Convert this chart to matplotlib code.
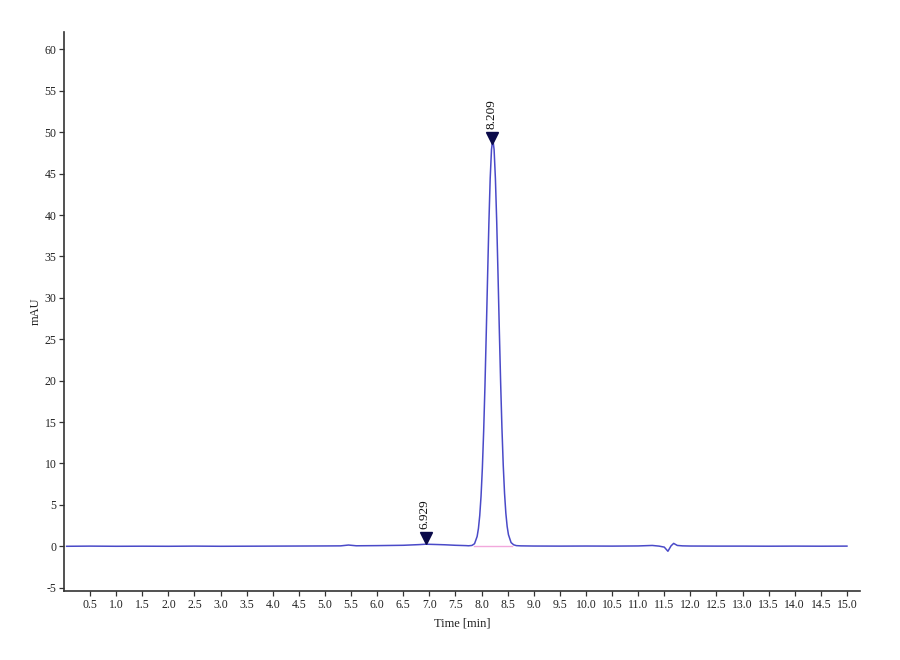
import matplotlib
matplotlib.use("Agg")
import matplotlib.pyplot as plt
from matplotlib.transforms import offset_copy

# ---- data ----
time_min = [0.05, 0.5, 1.0, 1.5, 2.0, 2.5, 3.0, 3.5, 4.0, 4.5, 5.0, 5.3, 5.45, 5.6, 6.0,
            6.5, 6.8, 6.929, 7.1, 7.3, 7.5, 7.7, 7.75, 7.815, 7.865, 7.915, 7.94, 7.965,
            7.99, 8.015, 8.04, 8.065, 8.09, 8.115, 8.14, 8.165, 8.19, 8.215, 8.24, 8.265,
            8.29, 8.315, 8.34, 8.365, 8.39, 8.415, 8.44, 8.465, 8.49, 8.515, 8.565,
            8.615, 8.665, 8.75, 9.0, 9.5, 10.0, 10.5, 11.0, 11.27, 11.4, 11.5, 11.57,
            11.63, 11.68, 11.75, 11.85, 12.0, 12.5, 13.0, 13.5, 14.0, 14.5, 15.0]
absorbance = [0.0, 0.02, 0.0, 0.01, 0.0, 0.02, 0.0, 0.01, 0.02, 0.03, 0.04, 0.05, 0.15, 0.06, 0.08,
              0.12, 0.2, 0.25, 0.22, 0.18, 0.12, 0.08, 0.06, 0.1, 0.31, 1.19, 2.16, 3.72,
              6.07, 9.42, 13.9, 19.4, 25.8, 32.5, 39.0, 44.4, 47.9, 49.2, 47.9, 44.4,
              39.2, 32.8, 26.1, 19.8, 14.3, 9.8, 6.4, 4.0, 2.4, 1.4, 0.45,
              0.18, 0.08, 0.05, 0.03, 0.02, 0.03, 0.02, 0.04, 0.1, 0.02, -0.1, -0.6,
              0.05, 0.35, 0.1, 0.05, 0.03, 0.02, 0.02, 0.01, 0.02, 0.01, 0.02]
peak_times = [6.929, 8.209]
peak_heights = [0.3, 48.6]
peak_labels = ["6.929", "8.209"]
baseline_start = [7.85]
baseline_end = [8.59]
x_ticks = [0.5, 1.0, 1.5, 2.0, 2.5, 3.0, 3.5, 4.0, 4.5, 5.0, 5.5, 6.0, 6.5, 7.0, 7.5,
           8.0, 8.5, 9.0, 9.5, 10.0, 10.5, 11.0, 11.5, 12.0, 12.5, 13.0, 13.5, 14.0, 14.5, 15.0]
y_ticks = [-5, 0, 5, 10, 15, 20, 25, 30, 35, 40, 45, 50, 55, 60]

plt.rcParams['font.family'] = ['Liberation Serif', 'DejaVu Serif']

fig = plt.figure(figsize=(9, 6.6), dpi=100)
ax = fig.add_axes([64/900, 1 - 591/660, (860 - 64)/900, (591 - 32)/660])

# integration baseline
for s, e in zip(baseline_start, baseline_end):
    ax.plot([s, e], [0, 0], color='#f2a8dc', lw=1.0, zorder=2)

ax.plot(time_min, absorbance, color='#4a4ac8', lw=1.1, zorder=3)

# peak markers and labels
for t, h, lab in zip(peak_times, peak_heights, peak_labels):
    tr = offset_copy(ax.transData, fig=fig, x=0, y=4.5, units='points')
    ax.plot([t], [h], marker='v', color='#0a0a4a', markersize=8, transform=tr,
            zorder=5, clip_on=False)
    ax.text(t, h, lab, rotation=90, ha='center', va='bottom', fontsize=9.5,
            transform=offset_copy(ax.transData, fig=fig, x=-1, y=10.5, units='points'),
            color='#111111')

ax.set_xlim(0.0, 15.25)
ax.set_ylim(-5.4, 62.1)
ax.set_xticks(x_ticks)
ax.set_xticklabels([f"{v:.1f}" for v in x_ticks])
ax.set_yticks(y_ticks)
ax.set_yticklabels([str(v) for v in y_ticks])

for side in ['top', 'right']:
    ax.spines[side].set_visible(False)
for side in ['left', 'bottom']:
    ax.spines[side].set_color('#333333')
    ax.spines[side].set_linewidth(1.2)

ax.tick_params(axis='both', direction='out', length=3.5, width=0.9, color='#333333',
               labelcolor='#222222', pad=2)
ax.tick_params(axis='x', labelsize=8.5)
ax.tick_params(axis='y', labelsize=8.5)

ax.set_xlabel("Time [min]", fontsize=9, labelpad=5, color='#222222')
ax.set_ylabel("mAU", fontsize=9, labelpad=2, color='#222222')

fig.savefig("out.png", dpi=100, facecolor='white')
